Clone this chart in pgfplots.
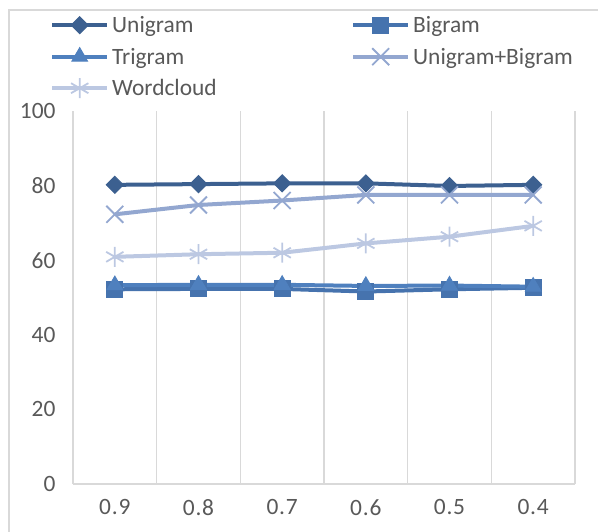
\documentclass[border=0pt]{standalone}
\usepackage{pgfplots}
\pgfplotsset{compat=1.18}
\usepackage{fontspec}
\setmainfont{Carlito}
\definecolor{cUni}{HTML}{3C6090}
\definecolor{cBi}{HTML}{4673AE}
\definecolor{cTri}{HTML}{4F80BE}
\definecolor{cUB}{HTML}{93A7D0}
\definecolor{cWC}{HTML}{BCC8E2}
\definecolor{gridc}{HTML}{D9D9D9}
\definecolor{txtc}{HTML}{595959}
\begin{document}
\begin{tikzpicture}
\useasboundingbox (-73bp,-48bp) rectangle (525bp,484bp);
\draw[gridc, line width=1.5bp] (540bp,474bp) -- (-64bp,474bp) -- (-64bp,-60bp);
\begin{axis}[
  scale only axis,
  width=502bp, height=373bp,
  xmin=-0.5, xmax=5.5, ymin=0, ymax=100,
  xtick={0,...,5},
  xticklabels={0\kern0.8bp.\kern0.8bp9,0\kern0.8bp.\kern0.8bp8,0\kern0.8bp.\kern0.8bp7,0\kern0.8bp.\kern0.8bp6,0\kern0.8bp.\kern0.8bp5,0\kern0.8bp.\kern0.8bp4},
  ytick={0,20,...,100},
  minor xtick={0.5,1.5,...,5.5},
  xminorgrids,
  minor grid style={gridc, line width=1.3bp},
  axis lines*=left,
  x axis line style={gridc, line width=1.3bp, -},
  y axis line style={gridc, line width=1.3bp, -},
  tick style={draw=none},
  major tick length=0pt, minor tick length=0pt,
  /pgf/number format/assume math mode=true,
  ticklabel style={font=\fontsize{23.5}{28}\selectfont, text=txtc},
  yticklabel style={xshift=-14bp},
  xticklabel style={yshift=-12bp},
  clip=false,
  legend columns=2,
  legend cell align=left,
  legend style={draw=none, fill=none, inner sep=0pt, column sep=0bp, row sep=8.5bp,
    anchor=north west, at={(axis description cs:-0.0458,1.2614)},
    font=\fontsize{23.5}{28}\selectfont, text=txtc,
    nodes={inner xsep=3bp, inner ysep=0pt, text height=19bp, text depth=4bp}},
  legend image code/.code={\draw[mark repeat=2,mark phase=2,#1] plot coordinates {(0bp,0bp) (27.5bp,0bp) (55bp,0bp)};},
]
\addplot[cUni, line width=4bp, mark=square*, mark size=6bp, mark options={rotate=45, solid, line width=1bp}]
 coordinates {(0,80.2)(1,80.4)(2,80.6)(3,80.6)(4,79.9)(5,80.2)};
\addlegendentry{\makebox[236bp][l]{Unigram}}
\addplot[cBi, line width=4bp, mark=square*, mark size=8bp, mark options={solid, line width=1bp}]
 coordinates {(0,52.2)(1,52.3)(2,52.3)(3,51.6)(4,52.2)(5,52.6)};
\addlegendentry{Bigram}
\addplot[cTri, line width=4bp, mark=triangle*, mark size=9bp, mark options={solid, line width=1bp}]
 coordinates {(0,53.3)(1,53.4)(2,53.4)(3,53.1)(4,53.2)(5,52.9)};
\addlegendentry{\makebox[236bp][l]{Trigram}}
\addplot[cUB, line width=4bp, mark=x, mark size=12bp, mark options={solid, line width=1.8bp}]
 coordinates {(0,72.3)(1,74.8)(2,76.0)(3,77.5)(4,77.5)(5,77.5)};
\addlegendentry{Unigram+Bigram}
\addplot[cWC, line width=4bp, mark=asterisk, mark size=10bp, mark options={solid, line width=1.8bp}]
 coordinates {(0,60.9)(1,61.6)(2,62.0)(3,64.5)(4,66.3)(5,69.2)};
\addlegendentry{Wordcloud}
\end{axis}
\end{tikzpicture}
\end{document}
